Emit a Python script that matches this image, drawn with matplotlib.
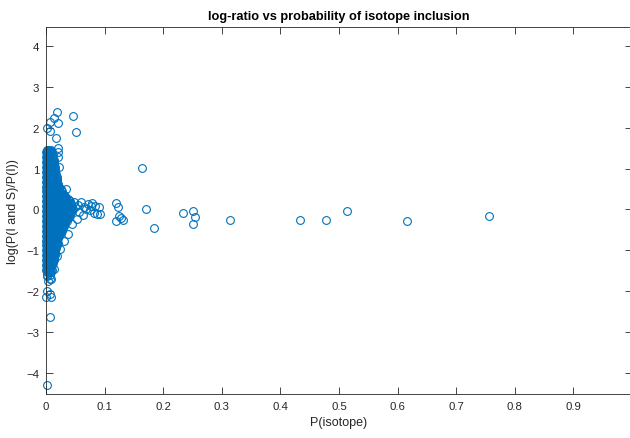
import numpy as np
import matplotlib
matplotlib.use("Agg")
import matplotlib.pyplot as plt

plt.rcParams['font.family'] = ['Liberation Sans', 'DejaVu Sans']

# ---- data --------------------------------------------------------------
# dense core near P(isotope)=0: each row is (log-ratio, list of P values)
core_rows = [
    (1.46, [0.001, 0.004, 0.008]),
    (1.43, [0.002, 0.006, 0.009]),
    (1.40, [0.000, 0.003, 0.006, 0.010]),
    (1.37, [0.002, 0.005, 0.009]),
    (1.34, [0.001, 0.004, 0.008, 0.012]),
    (1.31, [0.002, 0.006, 0.010]),
    (1.28, [0.000, 0.003, 0.007, 0.011]),
    (1.25, [0.002, 0.005, 0.009, 0.012]),
    (1.22, [0.001, 0.005, 0.009, 0.013]),
    (1.19, [0.002, 0.006, 0.010]),
    (1.16, [0.000, 0.003, 0.007, 0.011, 0.014]),
    (1.13, [0.002, 0.006, 0.010, 0.013]),
    (1.10, [0.001, 0.005, 0.009, 0.013]),
    (1.07, [0.002, 0.006, 0.010, 0.014]),
    (1.04, [0.000, 0.003, 0.007, 0.011, 0.015]),
    (1.01, [0.002, 0.006, 0.010, 0.013]),
    (0.98, [0.001, 0.005, 0.009, 0.013, 0.016]),
    (0.95, [0.002, 0.006, 0.010, 0.014]),
    (0.92, [0.000, 0.003, 0.007, 0.011, 0.015]),
    (0.89, [0.002, 0.006, 0.010, 0.014]),
    (0.86, [0.001, 0.005, 0.009, 0.013, 0.017]),
    (0.83, [0.002, 0.006, 0.010, 0.014]),
    (0.80, [0.000, 0.003, 0.007, 0.011, 0.015, 0.018]),
    (0.77, [0.002, 0.006, 0.010, 0.014, 0.017]),
    (0.74, [0.001, 0.005, 0.009, 0.013, 0.017, 0.019]),
    (0.71, [0.002, 0.006, 0.010, 0.014, 0.018]),
    (0.68, [0.000, 0.003, 0.007, 0.011, 0.015, 0.019]),
    (0.65, [0.002, 0.006, 0.010, 0.014, 0.018]),
    (0.62, [0.001, 0.005, 0.009, 0.013, 0.017, 0.021]),
    (0.59, [0.002, 0.006, 0.010, 0.014, 0.018, 0.021]),
    (0.56, [0.000, 0.003, 0.007, 0.011, 0.015, 0.019, 0.023]),
    (0.53, [0.002, 0.006, 0.010, 0.014, 0.018, 0.022]),
    (0.50, [0.001, 0.005, 0.009, 0.013, 0.017, 0.021, 0.025]),
    (0.47, [0.002, 0.006, 0.010, 0.014, 0.018, 0.022, 0.025]),
    (0.44, [0.000, 0.003, 0.007, 0.011, 0.015, 0.019, 0.023, 0.027]),
    (0.41, [0.002, 0.006, 0.010, 0.014, 0.018, 0.022, 0.026]),
    (0.38, [0.001, 0.005, 0.009, 0.013, 0.017, 0.021, 0.025, 0.029]),
    (0.35, [0.002, 0.006, 0.010, 0.014, 0.018, 0.022, 0.026, 0.030]),
    (0.32, [0.000, 0.003, 0.007, 0.011, 0.015, 0.019, 0.023, 0.027, 0.032]),
    (0.29, [0.002, 0.006, 0.010, 0.014, 0.018, 0.022, 0.026, 0.030, 0.034]),
    (0.26, [0.001, 0.005, 0.009, 0.013, 0.017, 0.021, 0.025, 0.029, 0.034, 0.038]),
    (0.23, [0.002, 0.006, 0.010, 0.014, 0.018, 0.022, 0.026, 0.030, 0.034, 0.039]),
    (0.20, [0.000, 0.003, 0.007, 0.011, 0.015, 0.019, 0.023, 0.027, 0.031, 0.036, 0.041]),
    (0.17, [0.002, 0.006, 0.010, 0.014, 0.018, 0.022, 0.026, 0.030, 0.034, 0.039]),
    (0.14, [0.001, 0.005, 0.009, 0.013, 0.017, 0.021, 0.025, 0.029, 0.033, 0.038, 0.043]),
    (0.11, [0.002, 0.006, 0.010, 0.014, 0.018, 0.022, 0.026, 0.030, 0.034, 0.038, 0.042]),
    (0.08, [0.000, 0.003, 0.007, 0.011, 0.015, 0.019, 0.023, 0.027, 0.031, 0.035, 0.040, 0.045]),
    (0.05, [0.002, 0.006, 0.010, 0.014, 0.018, 0.022, 0.026, 0.030, 0.034, 0.038, 0.043]),
    (0.02, [0.001, 0.005, 0.009, 0.013, 0.017, 0.021, 0.025, 0.029, 0.033, 0.037, 0.042, 0.046]),
    (-0.01, [0.002, 0.006, 0.010, 0.014, 0.018, 0.022, 0.026, 0.030, 0.034, 0.038, 0.043]),
    (-0.04, [0.000, 0.003, 0.007, 0.011, 0.015, 0.019, 0.023, 0.027, 0.031, 0.035, 0.040, 0.044]),
    (-0.07, [0.002, 0.006, 0.010, 0.014, 0.018, 0.022, 0.026, 0.030, 0.034, 0.038, 0.042]),
    (-0.10, [0.001, 0.005, 0.009, 0.013, 0.017, 0.021, 0.025, 0.029, 0.033, 0.037, 0.041]),
    (-0.13, [0.002, 0.006, 0.010, 0.014, 0.018, 0.022, 0.026, 0.030, 0.034, 0.038]),
    (-0.16, [0.000, 0.003, 0.007, 0.011, 0.015, 0.019, 0.023, 0.027, 0.031, 0.035, 0.039]),
    (-0.19, [0.002, 0.006, 0.010, 0.014, 0.018, 0.022, 0.026, 0.030, 0.034, 0.037]),
    (-0.22, [0.001, 0.005, 0.009, 0.013, 0.017, 0.021, 0.025, 0.029, 0.033, 0.037]),
    (-0.25, [0.002, 0.006, 0.010, 0.014, 0.018, 0.022, 0.026, 0.030, 0.034]),
    (-0.28, [0.000, 0.003, 0.007, 0.011, 0.015, 0.019, 0.023, 0.027, 0.031, 0.035]),
    (-0.31, [0.002, 0.006, 0.010, 0.014, 0.018, 0.022, 0.026, 0.030, 0.033]),
    (-0.34, [0.001, 0.005, 0.009, 0.013, 0.017, 0.021, 0.025, 0.029, 0.033]),
    (-0.37, [0.002, 0.006, 0.010, 0.014, 0.018, 0.022, 0.026, 0.030]),
    (-0.40, [0.000, 0.003, 0.007, 0.011, 0.015, 0.019, 0.023, 0.027, 0.031]),
    (-0.43, [0.002, 0.006, 0.010, 0.014, 0.018, 0.022, 0.026, 0.029]),
    (-0.46, [0.001, 0.005, 0.009, 0.013, 0.017, 0.021, 0.025, 0.029]),
    (-0.49, [0.002, 0.006, 0.010, 0.014, 0.018, 0.022, 0.026]),
    (-0.52, [0.000, 0.003, 0.007, 0.011, 0.015, 0.019, 0.023, 0.027]),
    (-0.55, [0.002, 0.006, 0.010, 0.014, 0.018, 0.022, 0.025]),
    (-0.58, [0.001, 0.005, 0.009, 0.013, 0.017, 0.021, 0.025]),
    (-0.61, [0.002, 0.006, 0.010, 0.014, 0.018, 0.022]),
    (-0.64, [0.000, 0.003, 0.007, 0.011, 0.015, 0.019, 0.023]),
    (-0.67, [0.002, 0.006, 0.010, 0.014, 0.018, 0.021]),
    (-0.70, [0.001, 0.005, 0.009, 0.013, 0.017, 0.021]),
    (-0.73, [0.002, 0.006, 0.010, 0.014, 0.018]),
    (-0.76, [0.000, 0.003, 0.007, 0.011, 0.015, 0.019]),
    (-0.79, [0.002, 0.006, 0.010, 0.014, 0.018]),
    (-0.82, [0.001, 0.005, 0.009, 0.013, 0.017, 0.020]),
    (-0.85, [0.002, 0.006, 0.010, 0.014, 0.017]),
    (-0.88, [0.000, 0.003, 0.007, 0.011, 0.015, 0.018]),
    (-0.91, [0.002, 0.006, 0.010, 0.014, 0.017]),
    (-0.94, [0.001, 0.005, 0.009, 0.013, 0.017]),
    (-0.97, [0.002, 0.006, 0.010, 0.014]),
    (-1.00, [0.000, 0.003, 0.007, 0.011, 0.015]),
    (-1.03, [0.002, 0.006, 0.010, 0.014]),
    (-1.06, [0.001, 0.005, 0.009, 0.013, 0.016]),
    (-1.09, [0.002, 0.006, 0.010, 0.014]),
    (-1.12, [0.000, 0.003, 0.007, 0.011, 0.015]),
    (-1.15, [0.002, 0.006, 0.010, 0.013]),
    (-1.18, [0.001, 0.005, 0.009, 0.013]),
    (-1.21, [0.002, 0.006, 0.010, 0.013]),
    (-1.24, [0.000, 0.003, 0.007, 0.011, 0.014]),
    (-1.27, [0.002, 0.006, 0.010]),
    (-1.30, [0.001, 0.005, 0.009, 0.012]),
    (-1.33, [0.002, 0.006, 0.010]),
    (-1.36, [0.000, 0.003, 0.007, 0.011]),
    (-1.39, [0.002, 0.006, 0.009]),
    (-1.42, [0.001, 0.005, 0.009]),
    (-1.45, [0.002, 0.006]),
    (-1.48, [0.000, 0.003, 0.007, 0.010]),
    (-1.51, [0.002, 0.006]),
    (-1.54, [0.001, 0.005, 0.008]),
    (-1.60, [0.002, 0.006]),
]

# scattered points around the core and the long tail
p_isotope = [
    0.046, 0.051, 0.018, 0.013, 0.007, 0.020, 0.001, 0.006, 0.017, 0.020,
    0.021, 0.020, 0.023, 0.034, 0.028, 0.047, 0.059, 0.071, 0.076, 0.084,
    0.087, 0.082, 0.069, 0.063, 0.053, 0.044, 0.038, 0.030, 0.024, 0.018,
    0.013, 0.093, 0.078, 0.065, 0.057, 0.075, 0.090, 0.050, 0.055,
    0.001, 0.007, 0.004, 0.008, 0.001, 0.007, 0.000, 0.008, 0.006, 0.002,
    0.164, 0.120, 0.123, 0.125, 0.128, 0.132, 0.120, 0.171, 0.184, 0.233,
    0.250, 0.254, 0.250, 0.314, 0.434, 0.478, 0.513, 0.616, 0.756,
]
log_ratio = [
    2.28, 1.89, 2.38, 2.23, 2.14, 2.12, 1.98, 1.93, 1.74, 1.50,
    1.40, 1.28, 1.03, 0.50, 0.30, 0.18, 0.19, 0.13, 0.09, 0.08,
    -0.11, -0.09, 0.01, -0.13, -0.23, -0.35, -0.60, -0.76, -0.97, -1.13,
    -1.45, -0.11, 0.15, 0.05, -0.05, -0.02, 0.05, 0.05, 0.12,
    -1.62, -1.70, -1.74, -1.71, -1.99, -2.07, -2.14, -2.15, -2.64, -4.28,
    1.01, 0.16, 0.06, -0.17, -0.22, -0.26, -0.29, 0.00, -0.46, -0.09,
    -0.04, -0.18, -0.36, -0.26, -0.26, -0.26, -0.04, -0.29, -0.17,
]

x_ticks = [0, 0.1, 0.2, 0.3, 0.4, 0.5, 0.6, 0.7, 0.8, 0.9]
x_tick_labels = ['0', '0.1', '0.2', '0.3', '0.4', '0.5', '0.6', '0.7', '0.8', '0.9']
y_ticks = [-4, -3, -2, -1, 0, 1, 2, 3, 4]

# ---- collect all points ---------------------------------------------------
xs, ys = [], []
for y, row in core_rows:
    xs.extend(row)
    ys.extend([y] * len(row))
xs.extend(p_isotope)
ys.extend(log_ratio)

# ---- plot -----------------------------------------------------------------
axis_col = '#262626'
fig = plt.figure(figsize=(6.3, 4.39), dpi=100)
ax = fig.add_axes([46 / 630, 44 / 439, 586 / 630, 367 / 439])

ax.plot(xs, ys, 'o', mfc='none', mec='#0072BD', ms=5.6, mew=0.8, clip_on=False)

ax.set_xlim(0, 1)
ax.set_ylim(-4.51, 4.46)
ax.set_xticks(x_ticks)
ax.set_xticklabels(x_tick_labels)
ax.set_yticks(y_ticks)
ax.tick_params(direction='in', length=5, width=0.6, colors=axis_col,
               labelsize=8.2, top=True, right=True, pad=5)
for s in ax.spines.values():
    s.set_color(axis_col)
    s.set_linewidth(0.6)

ax.set_title('log-ratio vs probability of isotope inclusion', fontsize=9.2,
             fontweight='bold', color='black', pad=6)
ax.set_xlabel('P(isotope)', fontsize=9, color=axis_col, labelpad=4)
ax.set_ylabel('log(P(I and S)/P(I))', fontsize=9, color=axis_col, labelpad=5)

plt.savefig('out.png', dpi=100)
